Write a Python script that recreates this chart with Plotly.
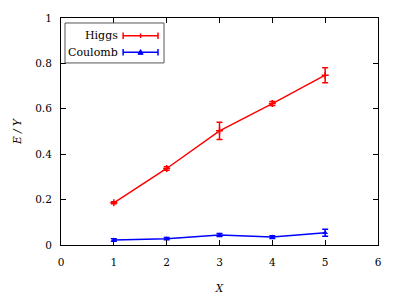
import plotly.graph_objects as go

x_vals = [1, 2, 3, 4, 5]
higgs = [0.186, 0.337, 0.503, 0.623, 0.748]
higgs_err = [0.004, 0.008, 0.038, 0.009, 0.033]
coulomb = [0.022, 0.028, 0.044, 0.035, 0.054]
coulomb_err = [0.005, 0.005, 0.007, 0.006, 0.015]
x_ticks = [0, 1, 2, 3, 4, 5, 6]
y_ticks = [0, 0.2, 0.4, 0.6, 0.8, 1]
y_labels = ["0", "0.2", "0.4", "0.6", "0.8", "1"]

FONT = "DejaVu Serif"
FS = 10.5
fig = go.Figure()
fig.add_trace(go.Scatter(x=x_vals, y=higgs, mode="lines+markers",
                         line=dict(color="#ff0000", width=1.5),
                         marker=dict(symbol="cross-thin", size=5, line=dict(color="#ff0000", width=1.5)),
                         error_y=dict(type="data", array=higgs_err, color="#ff0000", thickness=1.5, width=3),
                         name="Higgs", showlegend=False))
fig.add_trace(go.Scatter(x=x_vals, y=coulomb, mode="lines+markers",
                         line=dict(color="#0000ff", width=1.5),
                         marker=dict(symbol="triangle-up", size=5, color="#0000ff"),
                         error_y=dict(type="data", array=coulomb_err, color="#0000ff", thickness=1.5, width=3),
                         name="Coulomb", showlegend=False))

axis_common = dict(showline=True, linecolor="black", linewidth=1, mirror="allticks",
                   ticks="inside", ticklen=5, tickcolor="black", showgrid=False, zeroline=False,
                   automargin=False,
                   tickfont=dict(family=FONT, size=FS, color="black"))
fig.update_xaxes(range=[0, 6], tickvals=x_ticks, ticklabelstandoff=7,
                 title=dict(text="<i>X</i>", font=dict(family=FONT, size=FS, color="black"), standoff=18),
                 **axis_common)
fig.update_yaxes(range=[0, 1], tickvals=y_ticks, ticktext=y_labels, ticklabelstandoff=6,
                 title=dict(text="<i>E / Y</i>", font=dict(family=FONT, size=FS, color="black"), standoff=11),
                 **axis_common)

shapes = []
shapes.append(dict(type="rect", xref="paper", yref="paper", x0=0.0126, x1=0.325, y0=0.802, y1=0.978,
                   line=dict(color="#555", width=1), fillcolor="white", layer="above"))
annotations = []
for name, color, yp in [("Higgs", "#ff0000", 0.922), ("Coulomb", "#0000ff", 0.849)]:
    x0, x1 = 0.196, 0.306
    shapes.append(dict(type="line", xref="paper", yref="paper", x0=x0, x1=x1, y0=yp, y1=yp,
                       line=dict(color=color, width=1.5), layer="above"))
    for xc in (x0, x1):
        shapes.append(dict(type="line", xref="paper", yref="paper", x0=xc, x1=xc, y0=yp - 0.014, y1=yp + 0.014,
                           line=dict(color=color, width=1.5), layer="above"))
    xm = (x0 + x1) / 2
    if name == "Higgs":
        shapes.append(dict(type="line", xref="paper", yref="paper", x0=xm, x1=xm, y0=yp - 0.01, y1=yp + 0.01,
                           line=dict(color=color, width=1.5), layer="above"))
    else:
        shapes.append(dict(type="path", xref="paper", yref="paper",
                           path=f"M {xm-0.008},{yp-0.009} L {xm+0.008},{yp-0.009} L {xm},{yp+0.012} Z",
                           fillcolor=color, line=dict(color=color, width=1), layer="above"))
    annotations.append(dict(xref="paper", yref="paper", x=0.185, y=yp, xanchor="right", yanchor="middle",
                            text=name, showarrow=False, font=dict(family=FONT, size=11, color="black")))

fig.update_layout(width=399, height=299, margin=dict(l=53, r=29, t=10, b=62),
                  plot_bgcolor="white", paper_bgcolor="white", shapes=shapes, annotations=annotations,
                  font=dict(family=FONT, size=FS, color="black"))
fig.write_html("out.html")
